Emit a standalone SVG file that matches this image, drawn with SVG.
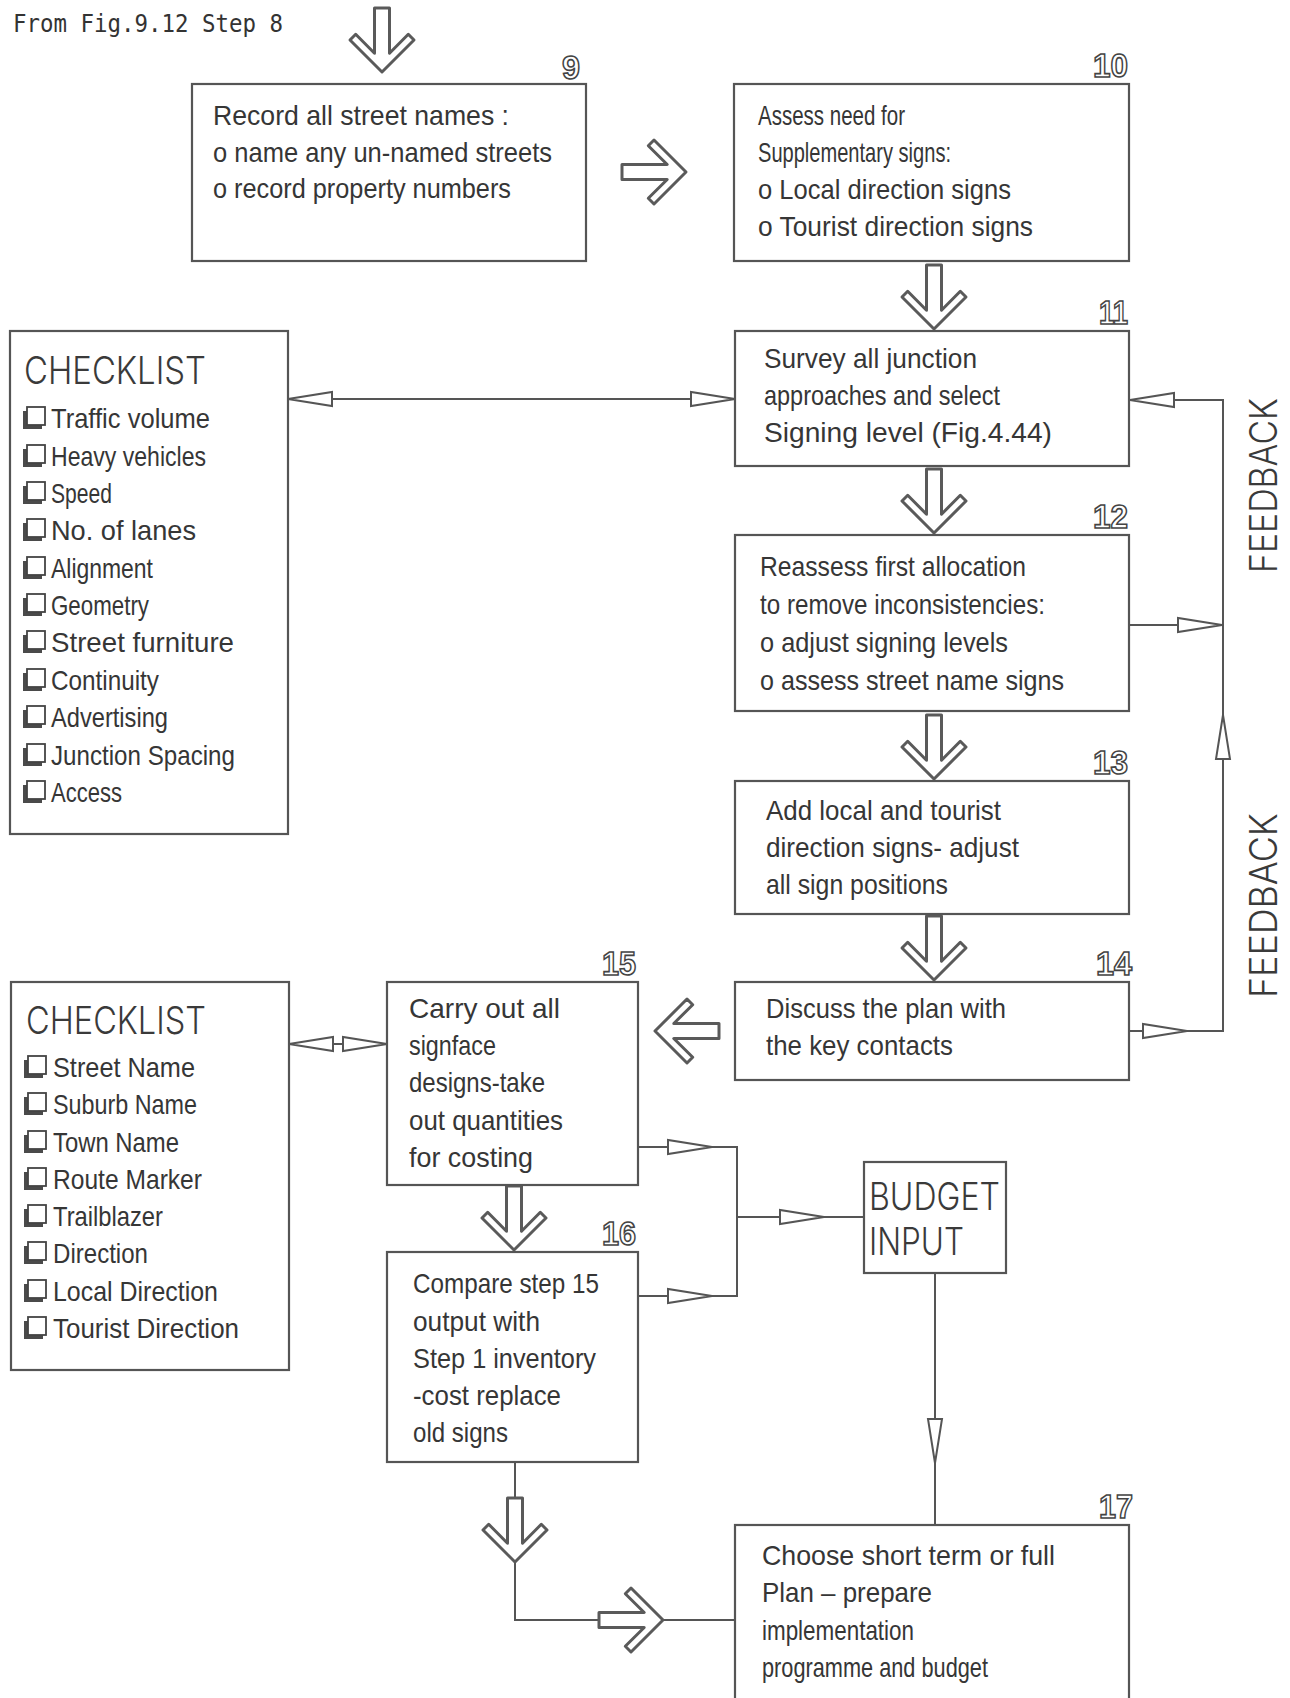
<svg xmlns="http://www.w3.org/2000/svg" xmlns:xlink="http://www.w3.org/1999/xlink" width="1290" height="1698" viewBox="0 0 1290 1698">
<style>
.box{fill:#fff;stroke:#555;stroke-width:2.2}
.t{font-family:"Liberation Sans",Arial,sans-serif;font-size:28px;fill:#363636}
.num{font-family:"Liberation Sans",Arial,sans-serif;font-weight:bold;font-size:34px;fill:#fff;stroke:#444;stroke-width:1.6}
.hdr{font-family:Inter,"Liberation Sans",sans-serif;font-weight:300;font-size:38px;fill:#3a3a3a}
.mono{font-family:"DejaVu Sans Mono","Liberation Mono",monospace;font-size:25px;fill:#333}
.ln{fill:none;stroke:#555;stroke-width:2}
.tri{fill:#fff;stroke:#555;stroke-width:2;stroke-linejoin:miter}
.blk{fill:#fff;stroke:#5a5a5a;stroke-width:3;stroke-linejoin:round}
.cbs{fill:#4a4a4a}
.cbf{fill:#fff;stroke:#444;stroke-width:1.8}
</style>
<defs>
<path id="barrow" class="blk" d="M-7.5,-64 L-7.5,-18.8 L-26.3,-37.7 L-32,-32 L0,0 L32,-32 L26.3,-37.7 L7.5,-18.8 L7.5,-64 Z"/>
<polygon id="tri" class="tri" points="0,0 -44,-7 -44,7"/>
<g id="cb"><rect class="cbs" x="0" y="4" width="19" height="18"/><rect class="cbf" x="4" y="0" width="18" height="18"/></g>
</defs>

<text class="mono" x="13" y="32" textLength="270" lengthAdjust="spacingAndGlyphs">From Fig.9.12 Step 8</text>

<g id="connectors">
  <use xlink:href="#barrow" transform="translate(382,72)"/>
  <use xlink:href="#barrow" transform="translate(686,172) rotate(-90)"/>
  <use xlink:href="#barrow" transform="translate(934,329)"/>
  <use xlink:href="#barrow" transform="translate(934,533)"/>
  <use xlink:href="#barrow" transform="translate(934,779)"/>
  <use xlink:href="#barrow" transform="translate(934,980)"/>
  <use xlink:href="#barrow" transform="translate(655,1031) rotate(90)"/>
  <use xlink:href="#barrow" transform="translate(514,1250)"/>
  <path class="ln" d="M515,1462 V1498"/>
  <path class="ln" d="M515,1562 V1620 H599"/>
  <use xlink:href="#barrow" transform="translate(515,1562)"/>
  <path class="ln" d="M663,1620 H735"/>
  <use xlink:href="#barrow" transform="translate(663,1620) rotate(-90)"/>

  <path class="ln" d="M288,399 H735"/>
  <use xlink:href="#tri" transform="translate(288,399) rotate(180)"/>
  <use xlink:href="#tri" transform="translate(735,399)"/>
  <path class="ln" d="M1129,400 H1223 V1031 H1129"/>
  <use xlink:href="#tri" transform="translate(1130,400) rotate(180)"/>
  <path class="ln" d="M1129,625 H1223"/>
  <use xlink:href="#tri" transform="translate(1222,625)"/>
  <use xlink:href="#tri" transform="translate(1223,715) rotate(-90)"/>
  <use xlink:href="#tri" transform="translate(1187,1031)"/>
  <path class="ln" d="M289,1044 H387"/>
  <use xlink:href="#tri" transform="translate(289,1044) rotate(180)"/>
  <use xlink:href="#tri" transform="translate(387,1044)"/>
  <path class="ln" d="M638,1147 H737 V1296 H638"/>
  <path class="ln" d="M737,1217 H864"/>
  <use xlink:href="#tri" transform="translate(712,1147)"/>
  <use xlink:href="#tri" transform="translate(712,1296)"/>
  <use xlink:href="#tri" transform="translate(824,1217)"/>
  <path class="ln" d="M935,1273 V1525"/>
  <use xlink:href="#tri" transform="translate(935,1463) rotate(90)"/>
</g>

<text class="hdr" transform="translate(1277,573) rotate(-90)" textLength="175" lengthAdjust="spacingAndGlyphs">FEEDBACK</text>
<text class="hdr" transform="translate(1277,998) rotate(-90)" textLength="185" lengthAdjust="spacingAndGlyphs">FEEDBACK</text>

<g id="node9">
  <rect class="box" x="192" y="84" width="394" height="177"/>
  <text class="num" x="562" y="79" textLength="18" lengthAdjust="spacingAndGlyphs">9</text>
  <text class="t" x="213" y="125" textLength="296" lengthAdjust="spacingAndGlyphs">Record all street names :</text>
  <text class="t" x="213" y="162" textLength="339" lengthAdjust="spacingAndGlyphs">o name any un-named streets</text>
  <text class="t" x="213" y="198" textLength="298" lengthAdjust="spacingAndGlyphs">o record property numbers</text>
</g>

<g id="node10">
  <rect class="box" x="734" y="84" width="395" height="177"/>
  <text class="num" x="1093" y="77" textLength="35" lengthAdjust="spacingAndGlyphs">10</text>
  <text class="t" x="758" y="125" textLength="147" lengthAdjust="spacingAndGlyphs">Assess need for</text>
  <text class="t" x="758" y="162" textLength="193" lengthAdjust="spacingAndGlyphs">Supplementary signs:</text>
  <text class="t" x="758" y="199" textLength="253" lengthAdjust="spacingAndGlyphs">o Local direction signs</text>
  <text class="t" x="758" y="236" textLength="275" lengthAdjust="spacingAndGlyphs">o Tourist direction signs</text>
</g>

<g id="node11">
  <rect class="box" x="735" y="331" width="394" height="135"/>
  <text class="num" x="1099" y="324" textLength="29" lengthAdjust="spacingAndGlyphs">11</text>
  <text class="t" x="764" y="368" textLength="213" lengthAdjust="spacingAndGlyphs">Survey all junction</text>
  <text class="t" x="764" y="405" textLength="236" lengthAdjust="spacingAndGlyphs">approaches and select</text>
  <text class="t" x="764" y="442" textLength="288" lengthAdjust="spacingAndGlyphs">Signing level (Fig.4.44)</text>
</g>

<g id="node12">
  <rect class="box" x="735" y="535" width="394" height="176"/>
  <text class="num" x="1093" y="528" textLength="35" lengthAdjust="spacingAndGlyphs">12</text>
  <text class="t" x="760" y="576" textLength="266" lengthAdjust="spacingAndGlyphs">Reassess first allocation</text>
  <text class="t" x="760" y="614" textLength="285" lengthAdjust="spacingAndGlyphs">to remove inconsistencies:</text>
  <text class="t" x="760" y="652" textLength="248" lengthAdjust="spacingAndGlyphs">o adjust signing levels</text>
  <text class="t" x="760" y="690" textLength="304" lengthAdjust="spacingAndGlyphs">o assess street name signs</text>
</g>

<g id="node13">
  <rect class="box" x="735" y="781" width="394" height="133"/>
  <text class="num" x="1093" y="774" textLength="35" lengthAdjust="spacingAndGlyphs">13</text>
  <text class="t" x="766" y="820" textLength="235" lengthAdjust="spacingAndGlyphs">Add local and tourist</text>
  <text class="t" x="766" y="857" textLength="253" lengthAdjust="spacingAndGlyphs">direction signs- adjust</text>
  <text class="t" x="766" y="894" textLength="182" lengthAdjust="spacingAndGlyphs">all sign positions</text>
</g>

<g id="node14">
  <rect class="box" x="735" y="982" width="394" height="98"/>
  <text class="num" x="1096" y="975" textLength="36" lengthAdjust="spacingAndGlyphs">14</text>
  <text class="t" x="766" y="1018" textLength="240" lengthAdjust="spacingAndGlyphs">Discuss the plan with</text>
  <text class="t" x="766" y="1055" textLength="187" lengthAdjust="spacingAndGlyphs">the key contacts</text>
</g>

<g id="node15">
  <rect class="box" x="387" y="982" width="251" height="203"/>
  <text class="num" x="602" y="975" textLength="34" lengthAdjust="spacingAndGlyphs">15</text>
  <text class="t" x="409" y="1018" textLength="151" lengthAdjust="spacingAndGlyphs">Carry out all</text>
  <text class="t" x="409" y="1055" textLength="87" lengthAdjust="spacingAndGlyphs">signface</text>
  <text class="t" x="409" y="1092" textLength="136" lengthAdjust="spacingAndGlyphs">designs-take</text>
  <text class="t" x="409" y="1130" textLength="154" lengthAdjust="spacingAndGlyphs">out quantities</text>
  <text class="t" x="409" y="1167" textLength="124" lengthAdjust="spacingAndGlyphs">for costing</text>
</g>

<g id="node16">
  <rect class="box" x="387" y="1252" width="251" height="210"/>
  <text class="num" x="602" y="1245" textLength="34" lengthAdjust="spacingAndGlyphs">16</text>
  <text class="t" x="413" y="1293" textLength="186" lengthAdjust="spacingAndGlyphs">Compare step 15</text>
  <text class="t" x="413" y="1331" textLength="127" lengthAdjust="spacingAndGlyphs">output with</text>
  <text class="t" x="413" y="1368" textLength="183" lengthAdjust="spacingAndGlyphs">Step 1 inventory</text>
  <text class="t" x="413" y="1405" textLength="148" lengthAdjust="spacingAndGlyphs">-cost replace</text>
  <text class="t" x="413" y="1442" textLength="95" lengthAdjust="spacingAndGlyphs">old signs</text>
</g>

<g id="budget">
  <rect class="box" x="864" y="1162" width="142" height="111"/>
  <text class="hdr" x="869" y="1210" textLength="131" lengthAdjust="spacingAndGlyphs">BUDGET</text>
  <text class="hdr" x="869" y="1255" textLength="95" lengthAdjust="spacingAndGlyphs">INPUT</text>
</g>

<g id="node17">
  <rect class="box" x="735" y="1525" width="394" height="190"/>
  <text class="num" x="1099" y="1518" textLength="34" lengthAdjust="spacingAndGlyphs">17</text>
  <text class="t" x="762" y="1565" textLength="293" lengthAdjust="spacingAndGlyphs">Choose short term or full</text>
  <text class="t" x="762" y="1602" textLength="170" lengthAdjust="spacingAndGlyphs">Plan – prepare</text>
  <text class="t" x="762" y="1640" textLength="152" lengthAdjust="spacingAndGlyphs">implementation</text>
  <text class="t" x="762" y="1677" textLength="226" lengthAdjust="spacingAndGlyphs">programme and budget</text>
</g>

<g id="checklist1">
  <rect class="box" x="10" y="331" width="278" height="503"/>
  <text class="hdr" x="24" y="384" textLength="182" lengthAdjust="spacingAndGlyphs">CHECKLIST</text>
  <use xlink:href="#cb" x="23" y="407"/>
  <text class="t" x="51" y="428" textLength="159" lengthAdjust="spacingAndGlyphs">Traffic volume</text>
  <use xlink:href="#cb" x="23" y="445"/>
  <text class="t" x="51" y="466" textLength="155" lengthAdjust="spacingAndGlyphs">Heavy vehicles</text>
  <use xlink:href="#cb" x="23" y="482"/>
  <text class="t" x="51" y="503" textLength="61" lengthAdjust="spacingAndGlyphs">Speed</text>
  <use xlink:href="#cb" x="23" y="519"/>
  <text class="t" x="51" y="540" textLength="145" lengthAdjust="spacingAndGlyphs">No. of lanes</text>
  <use xlink:href="#cb" x="23" y="557"/>
  <text class="t" x="51" y="578" textLength="102" lengthAdjust="spacingAndGlyphs">Alignment</text>
  <use xlink:href="#cb" x="23" y="594"/>
  <text class="t" x="51" y="615" textLength="98" lengthAdjust="spacingAndGlyphs">Geometry</text>
  <use xlink:href="#cb" x="23" y="631"/>
  <text class="t" x="51" y="652" textLength="183" lengthAdjust="spacingAndGlyphs">Street furniture</text>
  <use xlink:href="#cb" x="23" y="669"/>
  <text class="t" x="51" y="690" textLength="108" lengthAdjust="spacingAndGlyphs">Continuity</text>
  <use xlink:href="#cb" x="23" y="706"/>
  <text class="t" x="51" y="727" textLength="117" lengthAdjust="spacingAndGlyphs">Advertising</text>
  <use xlink:href="#cb" x="23" y="744"/>
  <text class="t" x="51" y="765" textLength="184" lengthAdjust="spacingAndGlyphs">Junction Spacing</text>
  <use xlink:href="#cb" x="23" y="781"/>
  <text class="t" x="51" y="802" textLength="71" lengthAdjust="spacingAndGlyphs">Access</text>
</g>

<g id="checklist2">
  <rect class="box" x="11" y="982" width="278" height="388"/>
  <text class="hdr" x="26" y="1034" textLength="180" lengthAdjust="spacingAndGlyphs">CHECKLIST</text>
  <use xlink:href="#cb" x="24" y="1056"/>
  <text class="t" x="53" y="1077" textLength="142" lengthAdjust="spacingAndGlyphs">Street Name</text>
  <use xlink:href="#cb" x="24" y="1093"/>
  <text class="t" x="53" y="1114" textLength="144" lengthAdjust="spacingAndGlyphs">Suburb Name</text>
  <use xlink:href="#cb" x="24" y="1131"/>
  <text class="t" x="53" y="1152" textLength="126" lengthAdjust="spacingAndGlyphs">Town Name</text>
  <use xlink:href="#cb" x="24" y="1168"/>
  <text class="t" x="53" y="1189" textLength="149" lengthAdjust="spacingAndGlyphs">Route Marker</text>
  <use xlink:href="#cb" x="24" y="1205"/>
  <text class="t" x="53" y="1226" textLength="110" lengthAdjust="spacingAndGlyphs">Trailblazer</text>
  <use xlink:href="#cb" x="24" y="1242"/>
  <text class="t" x="53" y="1263" textLength="95" lengthAdjust="spacingAndGlyphs">Direction</text>
  <use xlink:href="#cb" x="24" y="1280"/>
  <text class="t" x="53" y="1301" textLength="165" lengthAdjust="spacingAndGlyphs">Local Direction</text>
  <use xlink:href="#cb" x="24" y="1317"/>
  <text class="t" x="53" y="1338" textLength="186" lengthAdjust="spacingAndGlyphs">Tourist Direction</text>
</g>
</svg>
